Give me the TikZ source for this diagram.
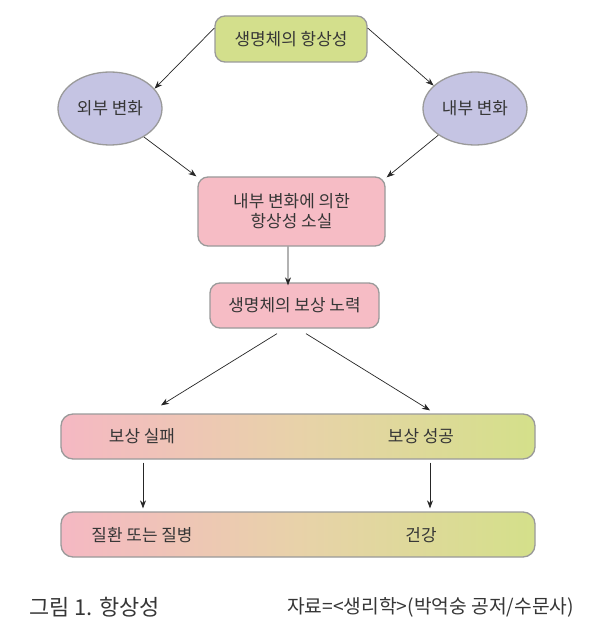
\documentclass[tikz,border=0pt]{standalone}
\usepackage{fontspec}
\setmainfont{Noto Sans CJK KR}
\usetikzlibrary{arrows.meta,shapes.geometric,calc}
\definecolor{topgreen}{HTML}{D3DF8C}
\definecolor{lav}{HTML}{C5C4E3}
\definecolor{pinkbox}{HTML}{F6BCC5}
\definecolor{gpink}{HTML}{F5B8C3}
\definecolor{gbeige}{HTML}{E8D2A9}
\definecolor{ggreen}{HTML}{D4E08A}
\definecolor{bord}{HTML}{9A9A9A}
\definecolor{txt}{HTML}{363636}
\begin{document}
\begin{tikzpicture}[x=1bp,y=-1bp,
  every node/.style={text=txt,font=\fontsize{17}{20}\selectfont,inner sep=0pt},
  rbox/.style={draw=bord,line width=1.3bp,rounded corners=10bp,align=center},
  ell/.style={ellipse,draw=bord,line width=1.3bp,fill=lav},
  band/.style={draw=bord,line width=1.3bp,rounded corners=12bp,left color=gpink,right color=ggreen,middle color=gbeige,minimum width=474bp,minimum height=45bp},
  arr/.style={draw=black!85,line width=0.7bp,-{Stealth[length=8bp,width=6bp]}}]
\useasboundingbox (0,0) rectangle (600,643);
\fill[white] (0,0) rectangle (600,643);
\node[rbox,fill=topgreen,minimum width=152bp,minimum height=46bp] (top) at (291,39) {생명체의 항상성};
\node[ell,minimum width=104bp,minimum height=73bp] (ext) at (110,108.5) {외부 변화};
\node[ell,minimum width=104bp,minimum height=73bp] (int) at (475,108.5) {내부 변화};
\node[rbox,fill=pinkbox,minimum width=187bp,minimum height=69bp] (loss) at (291.5,211.5) {내부 변화에 의한\\항상성 소실};
\node[rbox,fill=pinkbox,minimum width=169bp,minimum height=45bp] (eff) at (294.5,305.5) {생명체의 보상 노력};
\node[band] (b1) at (298,436.5) {};
\node[band] (b2) at (298,534.5) {};
\node (fail) at (142,436) {보상 실패};
\node (succ) at (421,436) {보상 성공};
\node (ill) at (142,535) {질환 또는 질병};
\node (health) at (421,535) {건강};
\node[anchor=west,font=\fontsize{22}{26}\selectfont] (cap) at (29,607) {그림 1. 항상성};
\node[anchor=west,font=\fontsize{19.3}{22}\selectfont] (src) at (287,607) {자료=<생리학>(박억숭 공저/수문사)};
% connectors
\draw[arr] ([yshift=11bp]top.west) -- (ext.24);
\draw[arr] ([yshift=11bp]top.east) -- (int.151);
\draw[arr] (ext.-40) -- ([xshift=-1bp]loss.north west);
\draw[arr] (int.216) -- ([xshift=1bp,yshift=-1bp]loss.north east);
\draw[arr] ([xshift=-3.5bp]loss.south) -- ([xshift=-6.5bp,yshift=-3bp]eff.north);
\draw[arr] ($(eff.south)+(-17.5,5)$) -- ($(b1.north)+(-137,-8)$);
\draw[arr] ($(eff.south)+(11.5,5)$) -- ($(b1.north)+(132,-3)$);
\draw[arr] ($(b1.south)+(-155,3)$) -- ($(b2.north)+(-155,-3)$);
\draw[arr] ($(b1.south)+(132,3)$) -- ($(b2.north)+(132,-3)$);
\end{tikzpicture}
\end{document}
